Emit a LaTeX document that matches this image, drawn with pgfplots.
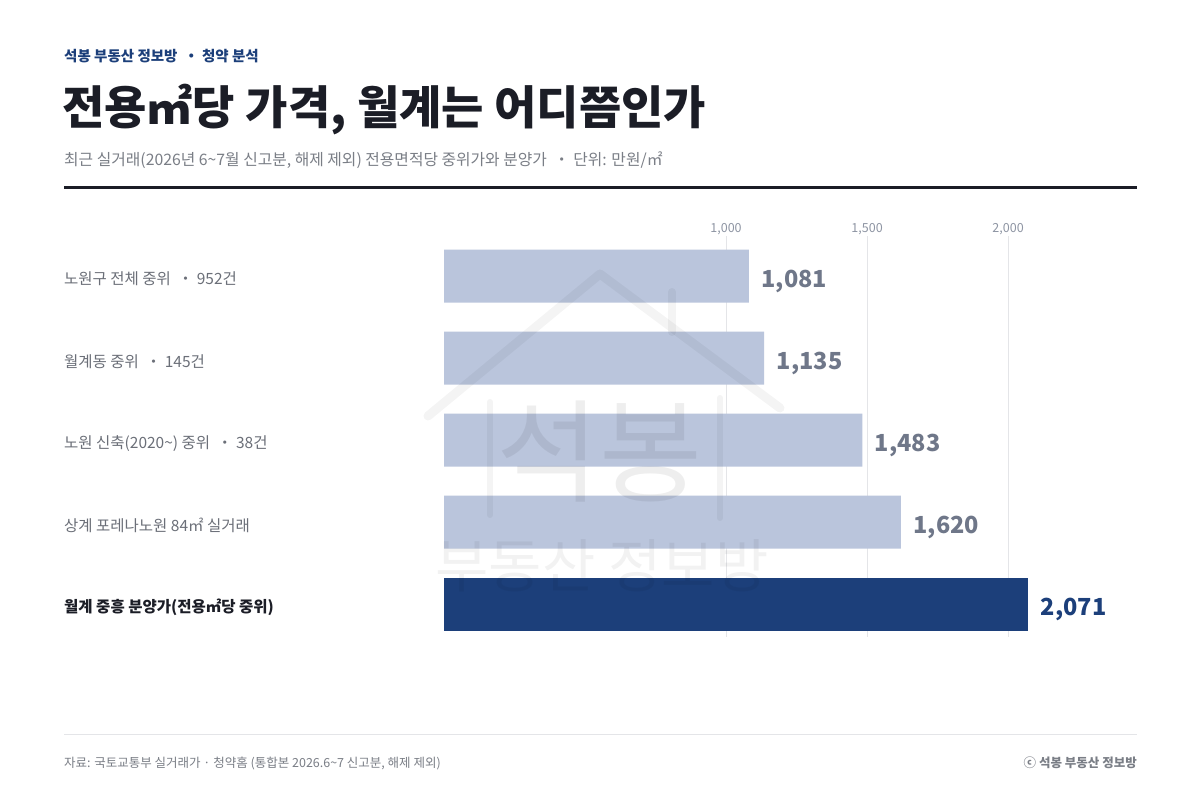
\documentclass[border=0pt]{standalone}
\usepackage{fontspec}
\setmainfont{Noto Sans CJK KR}
\usepackage{pgfplots}
\pgfplotsset{compat=1.18}

\definecolor{navy}{HTML}{1C3F7A}
\definecolor{lightbar}{HTML}{BAC5DC}
\definecolor{valgray}{HTML}{6F7789}
\definecolor{tickgray}{HTML}{8E95A3}
\definecolor{labgray}{HTML}{6B6F78}
\definecolor{subgray}{HTML}{7A7E86}
\definecolor{gridgray}{HTML}{E4E5E8}
\definecolor{ink}{HTML}{1B1D26}

\newcommand{\fs}[1]{\fontsize{#1bp}{#1bp}\selectfont}

\begin{document}
\begin{tikzpicture}
% page
\path[fill=white] (0,0) rectangle (1200bp,-800bp);

\begin{axis}[
  at={(444bp,-236bp)}, anchor=north west,
  scale only axis, width=693bp, height=401bp,
  xmin=0, xmax=2457, ymin=-0.49, ymax=4.4,
  y dir=reverse,
  xbar, bar width=53bp, bar shift=0pt,
  axis line style={draw=none},
  major tick length=0pt,
  xtick={1000,1500,2000},
  xmajorgrids, grid style={color=gridgray, line width=0.8bp},
  xticklabel pos=upper,
  /pgf/number format/.cd, 1000 sep={,}, assume math mode=true, /pgfplots/.cd,
  xticklabel style={font=\fs{12.5}\color{tickgray}, yshift=-2bp},
  ytick={0,1,2,3,4},
  yticklabels={
    노원구 전체 중위 \ ・ 952건,
    월계동 중위 \ ・ 145건,
    노원 신축(2020\textasciitilde) 중위 \ ・ 38건,
    상계 포레나노원 84㎡ 실거래,
    {\bfseries\color{ink}월계 중흥 분양가(전용㎡당 중위)}},
  yticklabel style={anchor=west, inner sep=0pt, xshift=-380bp, yshift=-3bp, font=\fs{15.5}\color{labgray}},
  point meta=x,
  nodes near coords={\pgfmathprintnumber[1000 sep={,}]{\pgfplotspointmeta}},
  nodes near coords align=horizontal,
  every node near coord/.append style={anchor=west, inner sep=0pt, xshift=12.5bp, yshift=-5bp, font=\fs{23.5}\bfseries},
]
\addplot[fill=lightbar, draw=none, every node near coord/.append style={text=valgray}]
  coordinates {(1081,0) (1135,1) (1483,2) (1620,3)};
\addplot[fill=navy, draw=none, every node near coord/.append style={text=navy}]
  coordinates {(2071,4)};
\end{axis}

\begin{scope}[x=1bp, y=-1bp]
  % watermark
  \begin{scope}[opacity=0.045, draw=black, line cap=round, line join=round]
    \draw[line width=9bp] (428,416) -- (600,274) -- (780,408);
    \draw[line width=6bp] (490,402) -- (490,515);
    \draw[line width=6bp] (720,398) -- (720,518);
    \draw[line width=8bp] (672,292) -- (672,332);
  \end{scope}
  \node[opacity=0.065, text=black, font=\fs{112}] at (600,452) {석봉};
  \node[opacity=0.05, text=black, font=\fs{58}] at (602,566) {부동산 정보방};

  % header
  \node[anchor=west, inner sep=0pt, font=\fs{14.5}\bfseries, text=navy] at (64,56) {석봉 부동산 정보방 \ ・ 청약 분석};
  \node[anchor=west, inner sep=0pt, font=\fs{46}\bfseries, text=ink] at (62,110) {전용㎡당 가격, 월계는 어디쯤인가};
  \node[anchor=west, inner sep=0pt, font=\fs{15.8}, text=subgray] at (64,160) {최근 실거래(2026년 6\textasciitilde7월 신고분, 해제 제외) 전용면적당 중위가와 분양가 \ ・ 단위: 만원/㎡};
  \draw[ink, line width=3bp] (64,187) -- (1137,187);

  % footer
  \draw[gridgray, line width=1bp] (64,734) -- (1137,734);
  \node[anchor=west, inner sep=0pt, font=\fs{12.5}, text=subgray] at (64,763) {자료: 국토교통부 실거래가 · 청약홈 (통합본 2026.6\textasciitilde7 신고분, 해제 제외)};
  \node[anchor=east, inner sep=0pt, font=\fs{12.5}\bfseries, text=subgray] at (1137,763) {ⓒ 석봉 부동산 정보방};
\end{scope}
\end{tikzpicture}
\end{document}
